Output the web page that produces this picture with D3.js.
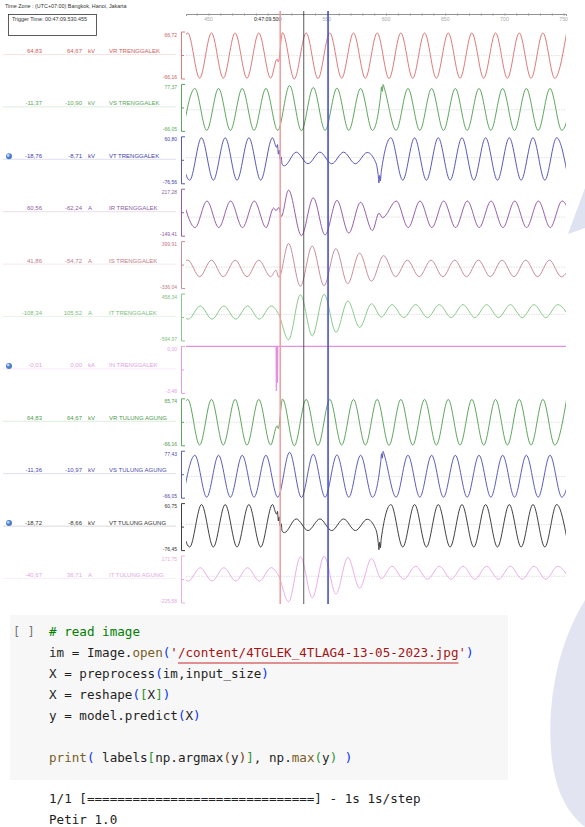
<!DOCTYPE html>
<html>
<head>
<meta charset="utf-8">
<script src="https://cdn.jsdelivr.net/npm/d3@7"></script>
<style>
  body { margin: 0; background: #fff; }
</style>
</head>
<body>
<svg id="chart" width="585" height="827"></svg>
<script>
// ---- data ----
const channelNames = ["VR TRENGGALEK", "VS TRENGGALEK", "VT TRENGGALEK", "IR TRENGGALEK", "IS TRENGGALEK",
  "IT TRENGGALEK", "IN TRENGGALEK", "VR TULUNG AGUNG", "VS TULUNG AGUNG", "VT TULUNG AGUNG", "IT TULUNG AGUNG"];
const cursorA = ["64,83", "-11,37", "-18,76", "60,56", "41,86", "-108,34", "-0,01", "64,83", "-11,36", "-18,72", "-40,67"];
const cursorB = ["64,67", "-10,90", "-8,71", "-62,24", "-54,72", "105,52", "0,00", "64,67", "-10,97", "-8,66", "36,71"];
const units = ["kV", "kV", "kV", "A", "A", "A", "kA", "kV", "kV", "kV", "A"];
const scaleTop = [66.72, 77.37, 60.80, 217.28, 399.91, 458.34, 0.00, 65.74, 77.43, 60.75, 171.75];
const scaleBottom = [-66.16, -66.05, -76.56, -149.41, -336.04, -594.97, -3.48, -66.16, -66.05, -76.45, -225.58];
const hasIcon = [false, false, true, false, false, false, true, false, false, true, false];

const axisTicks = [450, 500, 550, 600, 650, 700, 750];
const axisTickLabels = ["450", "0:47:09.500", "550", "600", "650", "700", "750"];
const cursorTimes = [510.6, 530.455, 551];   // ms of the red, black and blue cursors

// waveform extrema, [ms, value]
const vrTrenggalek = [[422.5,-63],[432.5,64],[442.5,-64],[452.5,64],[462.5,-64],[472.5,64],[482.5,-64],[492.5,64],[502.5,-64],
  [508,-10],[509,-18],[512.5,65],[522.5,-66],[532.5,64],[542.5,-65],[552.5,64],[562.5,-64],[572.5,64],[582.5,-64],[592.5,64],
  [602.5,-65],[612.5,64],[622.5,-64],[632.5,64],[642.5,-64],[652.5,64],[662.5,-64],[672.5,64],[682.5,-64],[692.5,64],
  [702.5,-64],[712.5,64],[722.5,-64],[732.5,64],[742.5,-64],[752.5,64]];
const vsTrenggalek = [[428.5,-63],[438.5,65],[448.5,-63],[458.5,65],[468.5,-63],[478.5,65],[488.5,-63],[498.5,65],[508.5,-63],
  [518.5,74],[528.5,-64],[538.5,68],[548.5,-63],[558.5,66],[568.5,-63],[578.5,65],[588.5,-63],[595.5,45],[596.2,70],[596.8,56],
  [597.5,77],[598.5,66],[608.5,-63],[618.5,65],[628.5,-63],[638.5,65],[648.5,-63],[658.5,65],[668.5,-63],[678.5,65],
  [688.5,-63],[698.5,65],[708.5,-63],[718.5,65],[728.5,-63],[738.5,65],[748.5,-63],[758.5,65]];
const vtTrenggalek = [[424.1,58],[434.1,-66],[444.1,58],[454.1,-66],[464.1,58],[474.1,-66],[484.1,58],[494.1,-66],[504.1,58],
  [507.5,30],[508.3,38],[509,10],[509.8,22],[510.6,-5],[511.4,2],[512.2,-20],[514.1,-24],[524.1,16],[534.1,-18],[544.1,16],
  [554.1,-18],[564.1,16],[574.1,-18],[584.1,15],[591,-12],[592.5,-30],[593.3,-50],[594,-74],[594.6,-52],[595.2,-68],[596,-40],
  [604.1,58],[614.1,-66],[624.1,58],[634.1,-66],[644.1,58],[654.1,-66],[664.1,58],[674.1,-66],[684.1,58],[694.1,-66],
  [704.1,58],[714.1,-66],[724.1,58],[734.1,-66],[744.1,58],[754.1,-66]];
const irTrenggalek = [[418.7,-82],[428.7,125],[438.7,-82],[448.7,125],[458.7,-82],[468.7,125],[478.7,-82],[488.7,125],[498.7,-82],
  [505,70],[507,50],[509.5,75],[511.5,5],[517.6,210],[528.5,-145],[538.5,150],[548.5,-140],[558.5,130],[568.5,-125],[578.5,115],
  [588.5,-105],[594,30],[597,-5],[608.7,125],[618.7,-82],[628.7,125],[638.7,-82],[648.7,125],[658.7,-82],[668.7,125],
  [678.7,-82],[688.7,125],[698.7,-82],[708.7,125],[718.7,-82],[728.7,125],[738.7,-82],[748.7,125],[758.7,-82]];
const isTrenggalek = [[422.5,-150],[432.5,110],[442.5,-150],[452.5,110],[462.5,-150],[472.5,110],[482.5,-150],[492.5,110],
  [502.5,-150],[507,-50],[509.5,-160],[517.6,370],[527.6,-300],[537.6,330],[547.6,-290],[557.6,290],[567.6,-260],[577.6,220],
  [587.6,-220],[598,180],[608,-150],[618,110],[628,-150],[638,110],[648,-150],[658,110],[668,-150],[678,110],[688,-150],
  [698,110],[708,-150],[718,110],[728,-150],[738,110],[748,-150],[758,110]];
const itTrenggalek = [[423,190],[433,-105],[443,190],[453,-105],[463,190],[473,-105],[483,190],[493,-105],[503,190],[509,20],
  [517.6,-570],[527.7,440],[537.7,-480],[547.7,450],[557.7,-400],[567.7,300],[577.7,-290],[587.7,240],[596,-60],[605,220],
  [615,-70],[625,220],[635,-70],[645,220],[655,-70],[665,220],[675,-70],[685,220],[695,-70],[705,220],[715,-70],[725,220],
  [735,-70],[745,220],[755,-70]];
const inTrenggalek = [[431,0],[507.1,0],[507.3,-3.3],[507.5,0],[508.1,0],[508.3,-2.7],[508.5,0],[752,0]];
const vrTulungAgung = vrTrenggalek;
const vsTulungAgung = vsTrenggalek;
const vtTulungAgung = vtTrenggalek;
const itTulungAgung = [[423,73],[433,-40],[443,73],[453,-40],[463,73],[473,-40],[483,73],[493,-40],[503,73],[509,10],
  [517.6,-215],[527.7,165],[537.7,-182],[547.7,170],[557.7,-150],[567.7,160],[577.7,-100],[587.7,150],[596,-20],[605,85],
  [615,-25],[625,85],[635,-25],[645,85],[655,-25],[665,85],[675,-25],[685,85],[695,-25],[705,85],[715,-25],[725,85],
  [735,-25],[745,85],[755,-25]];
const waves = [vrTrenggalek, vsTrenggalek, vtTrenggalek, irTrenggalek, isTrenggalek, itTrenggalek, inTrenggalek,
  vrTulungAgung, vsTulungAgung, vtTulungAgung, itTulungAgung];

// notebook cell
const codeLines = [
  [["# read image", "cm"]],
  [["im = Image.", "tx"], ["open", "fn"], ["(", "b1"], ["'/content/4TGLEK_4TLAG4-13-05-2023.jpg'", "st"], [")", "b1"]],
  [["X = preprocess", "tx"], ["(", "b1"], ["im,input_size", "tx"], [")", "b1"]],
  [["X = reshape", "tx"], ["(", "b1"], ["[", "b2"], ["X", "tx"], ["]", "b2"], [")", "b1"]],
  [["y = model.predict", "tx"], ["(", "b1"], ["X", "tx"], [")", "b1"]],
  [],
  [["print", "fn"], ["(", "b1"], [" labels", "tx"], ["[", "b2"], ["np.argmax", "tx"], ["(", "b3"], ["y", "tx"], [")", "b3"],
   ["]", "b2"], [", np.", "tx"], ["max", "fn"], ["(", "b2"], ["y", "tx"], [")", "b2"], [" ", "tx"], [")", "b1"]]
];
const outputLines = ["1/1 [==============================] - 1s 1s/step", "Petir 1.0"];

// ---- styles ----
const waveColors = ["#dc6a6a", "#4c9c4c", "#4646b4", "#8a4a9e", "#c48090", "#7cc47c", "#e48ee4",
  "#4c9c4c", "#4a4ab8", "#2a2a2a", "#e6a6e6"];
const textColors = ["#d45a5a", "#5aa85a", "#3c3ca8", "#8c5aa0", "#c07a8a", "#7cc07c", "#e2a2e2",
  "#4c9a4c", "#4a4ab0", "#333333", "#e2a8e2"];
const codeColors = { cm: "#008000", tx: "#1f1f1f", fn: "#795e26", st: "#a31515", b1: "#0431fa", b2: "#319331", b3: "#7b3814" };
const sans = "'Liberation Sans', Arial, sans-serif";
const mono = "'DejaVu Sans Mono', monospace";

const svg = d3.select("#chart");
const x = d3.scaleLinear().domain([431, 752]).range([186, 566]);
const rowTop0 = 32, rowStep = 52.4, rowH = 47;

// faint watermark at the right edge
const mark = svg.append("g").attr("fill", "#dfe2f0");
mark.append("path").attr("d", "M568,234 L585,188 L585,228 Z");
mark.append("path").attr("d", "M585,600 C560,640 545,700 552,760 C556,790 566,812 585,827 L585,600 Z").attr("opacity", 0.9);

// header
svg.append("text").attr("x", 5).attr("y", 8).attr("font-family", sans).attr("font-size", 5.4)
  .attr("fill", "#333").text("Time Zone : (UTC+07:00) Bangkok, Hanoi, Jakarta");
svg.append("rect").attr("x", 8.5).attr("y", 14.5).attr("width", 88).attr("height", 21)
  .attr("fill", "none").attr("stroke", "#333").attr("stroke-width", 0.8);
svg.append("text").attr("x", 12).attr("y", 21).attr("font-family", sans).attr("font-size", 5.4)
  .attr("fill", "#333").text("Trigger Time: 00:47:09.530.455");

// time axis
const axisY = 14;
const axisG = svg.append("g").attr("transform", `translate(0,${axisY})`);
axisG.call(d3.axisBottom(x).tickValues(d3.range(440, 752, 10)).tickSize(2).tickFormat(""))
  .call(g => g.select(".domain").attr("stroke", "#777").attr("stroke-width", 0.8))
  .call(g => g.selectAll(".tick line").attr("stroke", "#999").attr("stroke-width", 0.6).attr("y1", -1));
axisG.selectAll(".lbl").data(axisTicks).enter().append("text")
  .attr("x", d => x(d)).attr("y", 7).attr("text-anchor", "middle")
  .attr("font-family", sans).attr("font-size", 5.2)
  .attr("fill", (d, i) => i === 1 ? "#222" : "#aaa")
  .text((d, i) => axisTickLabels[i]);

// channels
channelNames.forEach((name, i) => {
  const top = rowTop0 + i * rowStep, bottom = top + rowH, lineY = top + 22;
  const y = d3.scaleLinear().domain([scaleBottom[i], scaleTop[i]]).range([bottom, top]);
  const g = svg.append("g");
  const tc = textColors[i];

  // left table row
  g.append("line").attr("x1", 3).attr("x2", 176).attr("y1", lineY + 0.5).attr("y2", lineY + 0.5)
    .attr("stroke", waveColors[i]).attr("stroke-opacity", 0.3).attr("stroke-width", 0.6);
  const t = g.append("g").attr("font-family", sans).attr("font-size", 6).attr("fill", tc);
  t.append("text").attr("x", 42).attr("y", lineY - 1).attr("text-anchor", "end").text(cursorA[i]);
  t.append("text").attr("x", 82).attr("y", lineY - 1).attr("text-anchor", "end").text(cursorB[i]);
  t.append("text").attr("x", 88).attr("y", lineY - 1).text(units[i]);
  t.append("text").attr("x", 109).attr("y", lineY - 1).text(name);
  if (hasIcon[i]) {
    g.append("circle").attr("cx", 9).attr("cy", lineY - 2.5).attr("r", 3).attr("fill", "#4a7cc8");
    g.append("circle").attr("cx", 8.2).attr("cy", lineY - 3.3).attr("r", 1.4).attr("fill", "#bcd4f4");
  }

  // scale bracket
  const s = g.append("g").attr("font-family", sans).attr("font-size", 5).attr("fill", tc).attr("text-anchor", "end");
  s.append("text").attr("x", 177).attr("y", top + 4.5).text(d3.format(".2f")(scaleTop[i]).replace(".", ","));
  s.append("text").attr("x", 177).attr("y", bottom).text(d3.format(".2f")(scaleBottom[i]).replace(".", ",").replace("−", "-"));
  const bx = 181.5;
  g.append("path").attr("d", `M${bx + 3.5},${top} H${bx} V${bottom} H${bx + 3.5} M${bx},${(top + bottom) / 2} H${bx + 2.5}`)
    .attr("fill", "none").attr("stroke", waveColors[i]).attr("stroke-width", 0.9);

  // zero reference line
  if (i !== 6) {
    g.append("line").attr("x1", 186).attr("x2", 566).attr("y1", y(0)).attr("y2", y(0))
      .attr("stroke", "#cfcfcf").attr("stroke-width", 0.6).attr("stroke-dasharray", "1.5,1");
  }

  // waveform
  const line = d3.line().x(d => x(d[0])).y(d => y(d[1]))
    .curve(i === 6 ? d3.curveLinear : d3.curveMonotoneX);
  g.append("path").datum(waves[i].filter(d => d[0] >= 420 && d[0] <= 760))
    .attr("clip-path", "url(#plotClip)")
    .attr("d", line).attr("fill", "none").attr("stroke", waveColors[i]).attr("stroke-width", i === 6 ? 1.2 : 0.9);
});

svg.append("clipPath").attr("id", "plotClip").append("rect")
  .attr("x", 186).attr("y", 0).attr("width", 380).attr("height", 610);

// cursors
const cursorStyle = [["#f0a0a0", 1.6], ["#333", 0.8], ["#4a52c8", 1.6]];
svg.selectAll(".cursor").data(cursorTimes).enter().append("line")
  .attr("x1", d => x(d)).attr("x2", d => x(d)).attr("y1", 11).attr("y2", 604)
  .attr("stroke", (d, i) => cursorStyle[i][0]).attr("stroke-width", (d, i) => cursorStyle[i][1]);

// notebook cell
svg.append("rect").attr("x", 10).attr("y", 615).attr("width", 498).attr("height", 165).attr("fill", "#f7f7f7");
svg.append("text").attr("x", 13).attr("y", 636).attr("font-family", mono).attr("font-size", 12)
  .attr("fill", "#757575").text("[ ]");
const codeX = 49, lineH = 21, codeY0 = 636;
codeLines.forEach((toks, li) => {
  const txt = svg.append("text").attr("x", codeX).attr("y", codeY0 + li * lineH)
    .attr("font-family", mono).attr("font-size", 12.6).attr("xml:space", "preserve");
  toks.forEach(([s, c]) => txt.append("tspan").attr("fill", codeColors[c]).text(s));
  if (li === 1) {
    const node = txt.node();
    const full = toks.map(d => d[0]).join("");
    const i0 = full.indexOf("'") + 1, i1 = full.lastIndexOf("'") - 1;
    const xs = node.getStartPositionOfChar(i0).x, xe = node.getEndPositionOfChar(i1).x;
    svg.append("line").attr("x1", xs).attr("x2", xe).attr("y1", codeY0 + lineH + 6).attr("y2", codeY0 + lineH + 6)
      .attr("stroke", "#c62828").attr("stroke-width", 1.2);
  }
});
outputLines.forEach((s, i) => {
  svg.append("text").attr("x", codeX).attr("y", 803 + i * 21).attr("font-family", mono).attr("font-size", 12.6)
    .attr("fill", "#212121").attr("xml:space", "preserve").text(s);
});
</script>
</body>
</html>
